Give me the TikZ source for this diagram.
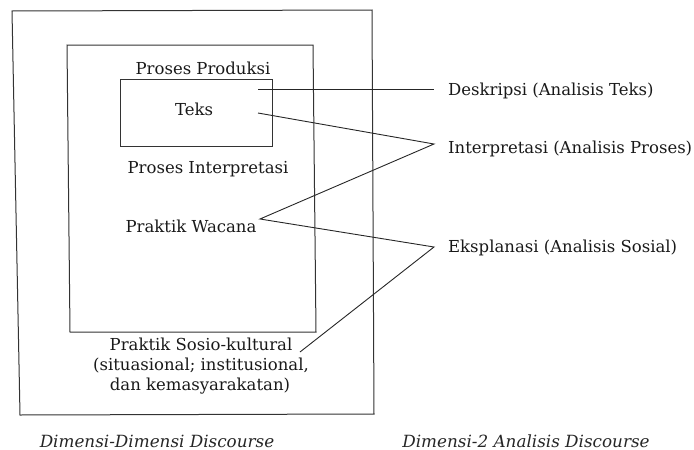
\documentclass[tikz,border=0pt]{standalone}
\usepackage{fontspec}
\setmainfont{DejaVu Serif}
\begin{document}
\begin{tikzpicture}[x=1pt,y=-1pt,
  frame/.style={draw=black!80,line width=1pt},
  link/.style={draw=black!85,line width=0.9pt},
  lbl/.style={inner sep=0pt,text=black!90,font=\fontsize{16.5}{20}\selectfont},
  captxt/.style={inner sep=0pt,text=black!85,font=\fontsize{16.8}{20}\selectfont\itshape}]
\useasboundingbox (0,0) rectangle (694,450);
% frames
\draw[frame] (12,11) -- (372,10) -- (374,414) -- (20,415) -- cycle;
\draw[frame] (67,45) -- (313,45) -- (316,332) -- (70,332) -- cycle;
\draw[frame] (120,79) -- (272,79) -- (272,146) -- (120,146) -- cycle;
% left texts
\node[lbl,anchor=base] (prod) at (203,74) {Proses Produksi};
\node[lbl,anchor=base] (teks) at (194,115) {Teks};
\node[lbl,anchor=base] (interp) at (208,173) {Proses Interpretasi};
\node[lbl,anchor=base] (wacana) at (191,232) {Praktik Wacana};
\node[lbl,anchor=base] (sosio1) at (201,350) {Praktik Sosio-kultural};
\node[lbl,anchor=base] (sosio2) at (201,370) {(situasional; institusional,};
\node[lbl,anchor=base] (sosio3) at (200,390) {dan kemasyarakatan)};
% right texts
\node[lbl,anchor=base west] (desk) at (448,95) {Deskripsi (Analisis Teks)};
\node[lbl,anchor=base west] (intr) at (448,153) {Interpretasi (Analisis Proses)};
\node[lbl,anchor=base west] (eksp) at (448,252) {Eksplanasi (Analisis Sosial)};
% captions
\node[captxt,anchor=base] (c1) at (157,447) {Dimensi-Dimensi Discourse};
\node[captxt,anchor=base] (c2) at (526,447) {Dimensi-2 Analisis Discourse};
% connector endpoints
\coordinate (tA) at (258,89);
\coordinate (tB) at (258,113);
\coordinate (wA) at (260,219);
\coordinate (sA) at (300,352);
\coordinate (dE) at (434,89);
\coordinate (iE) at (434,144);
\coordinate (eE) at (434,247);
\draw[link] (tA) -- (dE);
\draw[link] (tB) -- (iE) -- (wA) -- (eE) -- (sA);
\end{tikzpicture}
\end{document}
